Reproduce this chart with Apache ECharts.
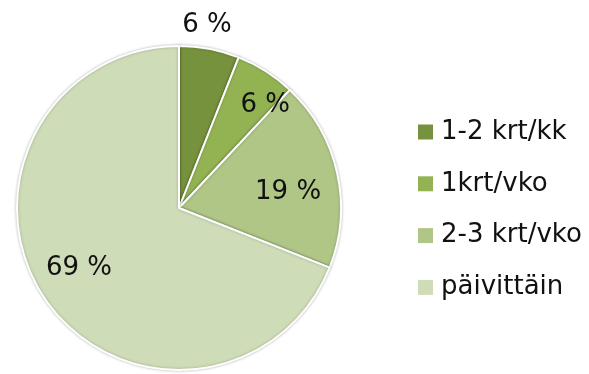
<!DOCTYPE html>
<html>
<head>
<meta charset="utf-8">
<script src="https://cdn.jsdelivr.net/npm/echarts@6/dist/echarts.min.js"></script>
<style>
  html, body { margin: 0; padding: 0; background: #ffffff; }
  #chart { width: 589px; height: 374px; }
</style>
</head>
<body>
<div id="chart"></div>
<script>
// Share of respondents by frequency (%)
const categories = ['1-2 krt/kk', '1krt/vko', '2-3 krt/vko', 'päivittäin'];
const shares = [6, 6, 19, 69];
const sliceColors = ['#77923D', '#93B353', '#AFC686', '#CFDCB8'];

// Where each percentage label sits: angle clockwise from 12 o'clock (deg)
// and distance from the centre as a fraction of the radius
const labelAngles = [8.7, 39.9, 82, 239];
const labelRadii = [1.14, 0.83, 0.68, 0.72];

const center = [179, 208];
const radius = 162;
const font = 'DejaVu Sans';

const chart = echarts.init(document.getElementById('chart'), null, { renderer: 'canvas' });

chart.setOption({
  backgroundColor: '#ffffff',
  animation: false,
  color: sliceColors,
  legend: {
    orient: 'vertical',
    left: 413,
    top: 112,
    itemWidth: 15,
    itemHeight: 15,
    itemGap: 21.8,
    icon: 'rect',
    data: categories,
    itemStyle: { borderWidth: 0, shadowBlur: 0 },
    textStyle: {
      fontFamily: font,
      fontSize: 26,
      lineHeight: 30,
      color: '#111111',
      padding: [0, 0, 0, 3]
    }
  },
  series: [{
    type: 'pie',
    center: center,
    radius: radius,
    startAngle: 90,
    clockwise: true,
    avoidLabelOverlap: false,
    itemStyle: {
      borderColor: '#ffffff',
      borderWidth: 2,
      shadowBlur: 3,
      shadowColor: 'rgba(0,0,0,0.25)'
    },
    label: {
      show: true,
      position: 'inside',
      formatter: (p) => p.value + ' %',
      fontFamily: font,
      fontSize: 26,
      color: '#111111'
    },
    labelLine: { show: false },
    labelLayout: (params) => {
      const i = params.dataIndex;
      const a = labelAngles[i] * Math.PI / 180;
      const r = labelRadii[i] * radius;
      return {
        x: center[0] + r * Math.sin(a),
        y: center[1] - r * Math.cos(a),
        align: 'center',
        verticalAlign: 'middle'
      };
    },
    emphasis: { disabled: true },
    data: categories.map((name, i) => ({ name: name, value: shares[i] }))
  }]
});
</script>
</body>
</html>
